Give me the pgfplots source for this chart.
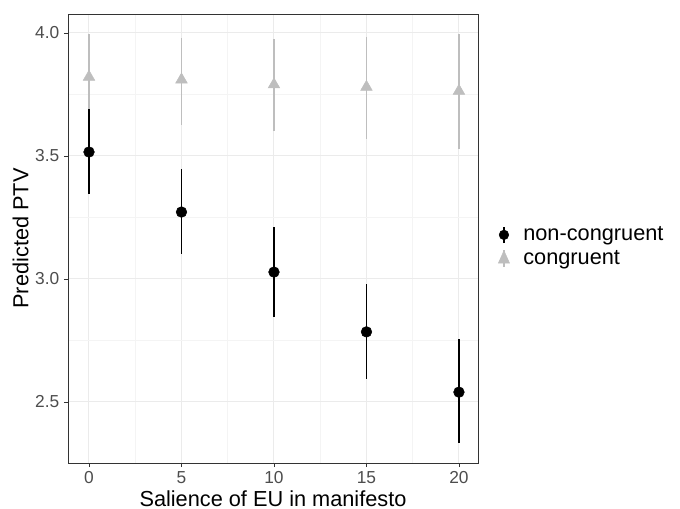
\documentclass[border=0pt]{standalone}
\usepackage{pgfplots}
\pgfplotsset{compat=1.18}
\usepackage{pgfplotstable}
\usepackage{fontspec}
\setmainfont{Liberation Sans}
\definecolor{gridmaj}{HTML}{EBEBEB}
\definecolor{gridmin}{HTML}{F4F4F4}
\definecolor{tickgrey}{HTML}{4D4D4D}
\definecolor{border}{HTML}{333333}
\definecolor{congr}{HTML}{BEBEBE}
\pgfplotstableread{
x y ep em
0 3.516 0.174 0.171
5 3.272 0.175 0.172
10 3.028 0.183 0.182
15 2.785 0.195 0.192
20 2.540 0.216 0.207
}\noncongr
\pgfplotstableread{
x y ep em
0 3.821 0.175 0.183
5 3.810 0.170 0.184
10 3.790 0.186 0.190
15 3.780 0.204 0.210
20 3.764 0.232 0.236
}\congr
\begin{document}
\begin{tikzpicture}
\begin{axis}[
  at={(0,0)}, anchor=south west,
  scale only axis, width=307.5pt, height=336.75pt,
  xmin=-1.135, xmax=21.03, ymin=2.252, ymax=4.077,
  xtick={0,5,10,15,20}, ytick={2.5,3.0,3.5,4.0},
  minor xtick={2.5,7.5,12.5,17.5}, minor ytick={2.75,3.25,3.75},
  yticklabel style={/pgf/number format/.cd, fixed, fixed zerofill, precision=1},
  /pgf/number format/assume math mode=true,
  ticklabel style={font=\fontsize{13}{15}\selectfont, text=tickgrey},
  tick align=outside, major tick length=3pt, minor tick length=0pt,
  tick style={border, line width=0.5pt},
  xtick pos=bottom, ytick pos=left,
  grid=both,
  major grid style={gridmaj, line width=0.75pt},
  minor grid style={gridmin, line width=0.4pt},
  axis line style={border, line width=0.6pt},
  xlabel={Salience of EU in manifesto},
  ylabel={Predicted PTV},
  label style={font=\fontsize{16.3}{19}\selectfont},
  xlabel style={yshift=2pt},
  ylabel style={yshift=-2pt},
  legend style={draw=none, fill=none, at={(1.027,0.482)}, anchor=west,
    font=\fontsize{16.3}{19}\selectfont, row sep=1.5pt,
    legend cell align=left},
  legend image code/.code={},
]
\addlegendimage{legend image code/.code={
  \path[draw=none, fill=none] (0cm,0) -- (0.72cm,0);
  \draw[black, line width=1.4pt] (0.28cm,-0.22cm)--(0.28cm,0.22cm);
  \fill[black] (0.28cm,0) circle (3.6pt);}}
\addlegendentry{non-congruent}
\addlegendimage{legend image code/.code={
  \path[draw=none, fill=none] (0cm,0) -- (0.72cm,0);
  \draw[congr, line width=1.4pt] (0.28cm,-0.22cm)--(0.28cm,0.22cm);
  \fill[congr] (0.28cm,0.2cm)--(0.28cm-4.2pt,-0.13cm)--(0.28cm+4.2pt,-0.13cm)--cycle;}}
\addlegendentry{congruent}
\addplot[forget plot, congr, only marks, mark=triangle*, mark size=5pt,
  mark options={congr},
  error bars/.cd, y dir=both, y explicit, error mark=none,
  error bar style={congr, line width=1.4pt}]
  table[x=x, y=y, y error plus=ep, y error minus=em] {\congr};
\addplot[forget plot, black, only marks, mark=*, mark size=4pt,
  error bars/.cd, y dir=both, y explicit, error mark=none,
  error bar style={black, line width=1.4pt}]
  table[x=x, y=y, y error plus=ep, y error minus=em] {\noncongr};
\end{axis}
\pgfresetboundingbox
\useasboundingbox (-51pt,-34.5pt) rectangle (459pt,347.25pt);
\end{tikzpicture}
\end{document}
